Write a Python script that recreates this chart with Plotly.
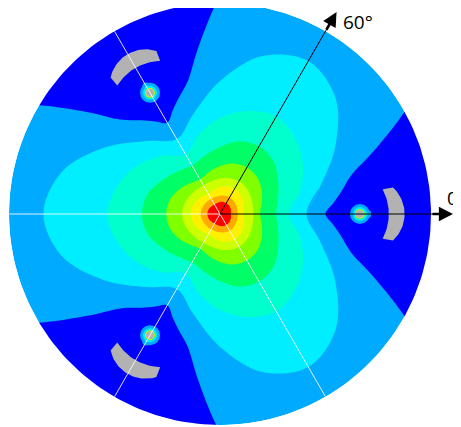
import numpy as np
import plotly.graph_objects as go

# ---------------- data ----------------
# Three-fold contour levels: radius (unit circle = 1) of each level boundary
# sampled at angular offsets from the lobe axes (lobes at 60, 180, 300 deg)
LOBE_AXES_DEG = [60, 180, 300]
PROFILE_OFFSETS_DEG = [0, 15, 30, 45, 60]
CYAN_R = [0.837, 0.775, 0.63, 0.49, 0.41]
AQUA_R = [0.534, 0.505, 0.455, 0.39, 0.325]
GREEN_R = [0.37, 0.357, 0.318, 0.285, 0.266]
LIME_R = [0.255, 0.248, 0.228, 0.205, 0.19]
YGREEN_R = [0.18, 0.176, 0.168, 0.161, 0.158]
YELLOW_R = [0.139, 0.135, 0.127, 0.117, 0.11]
ORANGE_R = [0.092, 0.09, 0.087, 0.085, 0.084]
RED_R = [0.06, 0.059, 0.057, 0.054, 0.052]

# Low-density wedges (dark blue) at 0, 120, 240 deg: boundary radius vs offset
WEDGE_AXES_DEG = [0, 120, 240]
WEDGE_OFFSETS_DEG = [0, 5.5, 10, 16.5, 22, 29, 33]
WEDGE_R = [0.50, 0.54, 0.58, 0.65, 0.78, 1.0, 1.12]

# Secondary spots and grey crescents along the wedge axes
SPOT_R = 0.663
CRESCENT_OUTER = dict(center=0.705, radius=0.17, half_span=47.5)
CRESCENT_INNER = dict(center=0.55, radius=0.25, half_span=28.0)

# Reference directions
WHITE_DIRS_DEG = [120, 180, 240, 300]
ARROW_DIRS_DEG = [0, 60]
ARROW_LABELS = ["0°", "60°"]

# ---------------- styles ----------------
C_DARK = "#0000FF"
C_LIGHT = "#00AAFF"
LEVELS = [
    (CYAN_R, "#00EEFF"),
    (AQUA_R, "#00FFCC"),
    (GREEN_R, "#00FF66"),
    (LIME_R, "#80FF00"),
    (YGREEN_R, "#CCFF00"),
    (YELLOW_R, "#FFF000"),
    (ORANGE_R, "#FFAA00"),
    (RED_R, "#FF0000"),
]
C_GREY = "#B2B2B2"


def ang_dist(a, b):
    d = abs((a - b) % 360)
    return min(d, 360 - d)


def level_xy(profile):
    angs = np.arange(0, 360, 15)
    rs = []
    for a in angs:
        d = min(ang_dist(a, ax) for ax in LOBE_AXES_DEG)
        rs.append(profile[PROFILE_OFFSETS_DEG.index(int(round(d / 15)) * 15)])
    rs = np.array(rs)
    t = np.radians(angs)
    x = list(rs * np.cos(t))
    y = list(rs * np.sin(t))
    return x + x[:2], y + y[:2]


def rot(x, y, deg):
    t = np.radians(deg)
    x = np.asarray(x)
    y = np.asarray(y)
    return x * np.cos(t) - y * np.sin(t), x * np.sin(t) + y * np.cos(t)


fig = go.Figure()

# dark-blue wedges
offs = [-o for o in WEDGE_OFFSETS_DEG[::-1]] + WEDGE_OFFSETS_DEG[1:]
rr = WEDGE_R[::-1] + WEDGE_R[1:]
for ax in WEDGE_AXES_DEG:
    angs = [ax + o for o in offs] + [ax + WEDGE_OFFSETS_DEG[-1], ax - WEDGE_OFFSETS_DEG[-1]]
    rads = rr + [1.6, 1.6]
    t = np.radians(angs)
    xs = list(np.array(rads) * np.cos(t))
    ys = list(np.array(rads) * np.sin(t))
    fig.add_trace(go.Scatter(x=xs + xs[:1], y=ys + ys[:1], mode="lines", fill="toself",
                             fillcolor=C_DARK, line=dict(width=0, color=C_DARK, shape="spline"),
                             hoverinfo="skip", showlegend=False))

# main contour levels
for prof, col in LEVELS:
    x, y = level_xy(prof)
    fig.add_trace(go.Scatter(x=x, y=y, mode="lines", fill="toself", fillcolor=col,
                             line=dict(width=0, color=col, shape="spline"),
                             hoverinfo="skip", showlegend=False))

# secondary spots
spot_layers = [(0.035, 8, C_LIGHT), (0.0, 20, C_LIGHT), (0.022, 6, "#00EEFF"),
               (0.0, 14, "#00EEFF"), (0.0, 10.5, "#00FF66"), (0.0, 9.5, "#FFF000"), (0.0, 8, C_GREY)]
for dr, size, col in spot_layers:
    t = np.radians(WEDGE_AXES_DEG)
    fig.add_trace(go.Scatter(x=(SPOT_R + dr) * np.cos(t), y=(SPOT_R + dr) * np.sin(t), mode="markers",
                             marker=dict(size=size, color=col, line=dict(width=0)),
                             hoverinfo="skip", showlegend=False))

# grey crescents
po = np.radians(np.linspace(-CRESCENT_OUTER["half_span"], CRESCENT_OUTER["half_span"], 40))
pi_ = np.radians(np.linspace(CRESCENT_INNER["half_span"], -CRESCENT_INNER["half_span"], 40))
cx = np.concatenate([CRESCENT_OUTER["center"] + CRESCENT_OUTER["radius"] * np.cos(po),
                     CRESCENT_INNER["center"] + CRESCENT_INNER["radius"] * np.cos(pi_)])
cy = np.concatenate([CRESCENT_OUTER["radius"] * np.sin(po), CRESCENT_INNER["radius"] * np.sin(pi_)])
for ax in WEDGE_AXES_DEG:
    x, y = rot(cx, cy, ax)
    fig.add_trace(go.Scatter(x=list(x) + [x[0]], y=list(y) + [y[0]], mode="lines", fill="toself",
                             fillcolor=C_GREY, line=dict(width=0, color=C_GREY),
                             hoverinfo="skip", showlegend=False))

# white mask outside the unit circle
th = np.linspace(0, 2 * np.pi, 241)
mx = np.concatenate([3 * np.cos(th), np.cos(th[::-1])])
my = np.concatenate([3 * np.sin(th), np.sin(th[::-1])])
fig.add_trace(go.Scatter(x=mx, y=my, mode="lines", fill="toself", fillcolor="white",
                         line=dict(width=0, color="white"), hoverinfo="skip", showlegend=False))

# reference lines
for d in WHITE_DIRS_DEG:
    t = np.radians(d)
    fig.add_trace(go.Scatter(x=[0, np.cos(t)], y=[0, np.sin(t)], mode="lines",
                             line=dict(width=1, color="rgba(255,255,255,0.85)"),
                             hoverinfo="skip", showlegend=False))
for d in ARROW_DIRS_DEG:
    t = np.radians(d)
    fig.add_trace(go.Scatter(x=[0, 1.01 * np.cos(t)], y=[0, 1.01 * np.sin(t)], mode="lines",
                             line=dict(width=1, color="black"),
                             hoverinfo="skip", showlegend=False))

annotations = []
for d in ARROW_DIRS_DEG:
    t = np.radians(d)
    annotations.append(dict(x=1.105 * np.cos(t), y=1.105 * np.sin(t), ax=1.0 * np.cos(t), ay=1.0 * np.sin(t),
                            xref="x", yref="y", axref="x", ayref="y", text="", showarrow=True,
                            arrowhead=2, arrowsize=1.1, arrowwidth=2.6, arrowcolor="black"))
annotations.append(dict(x=1.068, y=0.078, xref="x", yref="y", text=ARROW_LABELS[0], showarrow=False,
                        xanchor="left", yanchor="middle", font=dict(size=19, color="black", family="Open Sans")))
annotations.append(dict(x=0.652, y=0.91, xref="x", yref="y", text=ARROW_LABELS[1], showarrow=False,
                        xanchor="center", yanchor="middle", font=dict(size=19, color="black", family="Open Sans")))

# the page body adds an 8 px margin: the figure is sized to fit the 461x427 window exactly,
# and the circle centre (220, 214 on screen) sits at (212, 206) in the figure
W, H = 453, 419
CX, CY, S = 212, 206, 211
fig.update_layout(
    width=W, height=H, margin=dict(l=0, r=0, t=0, b=0),
    paper_bgcolor="white", plot_bgcolor="white",
    xaxis=dict(range=[-CX / S, (W - CX) / S], visible=False, fixedrange=True),
    yaxis=dict(range=[-(H - CY) / S, CY / S], visible=False, fixedrange=True),
    shapes=[dict(type="circle", xref="x", yref="y", x0=-1, y0=-1, x1=1, y1=1,
                 fillcolor=C_LIGHT, line=dict(width=0), layer="below")],
    annotations=annotations,
    showlegend=False,
)
fig.write_html("out.html")
